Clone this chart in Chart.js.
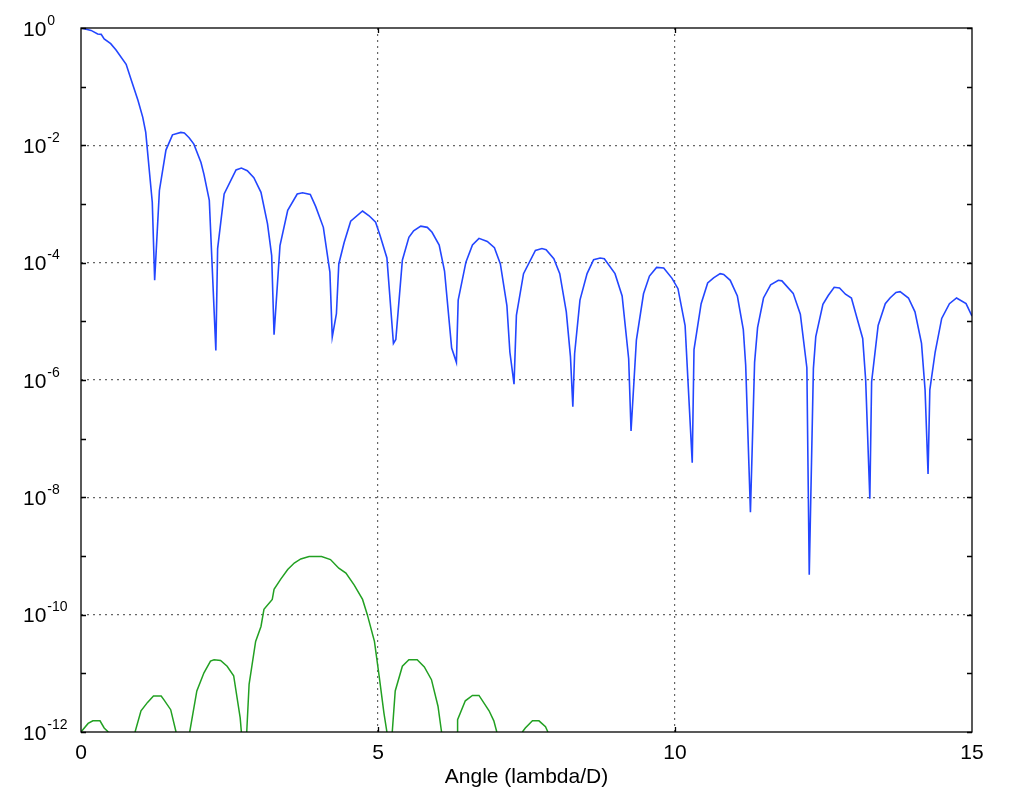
<!DOCTYPE html>
<html>
<head>
<meta charset="utf-8">
<script src="https://cdn.jsdelivr.net/npm/chart.js@4.4.1/dist/chart.umd.min.js"></script>
<style>
html,body{margin:0;padding:0;background:#fff;}
#plot{display:block;}
</style>
</head>
<body>
<canvas id="plot" width="1012" height="791"></canvas>
<script>

/* Data */

const blueAngle=[0.0,0.17,0.28,0.34,0.39,0.5,0.59,0.76,0.85,0.96,1.04,1.09,1.2,1.24,1.32,1.43,1.54,1.68,1.74,1.82,1.9,2.02,2.07,2.16,2.27,2.3,2.41,2.61,2.7,2.8,2.91,3.03,3.14,3.21,3.25,3.35,3.48,3.64,3.73,3.86,3.95,4.08,4.19,4.23,4.3,4.34,4.43,4.54,4.74,4.85,4.96,5.04,5.15,5.26,5.3,5.41,5.52,5.6,5.72,5.83,5.91,6.03,6.12,6.24,6.32,6.35,6.48,6.59,6.7,6.84,6.96,7.06,7.17,7.22,7.29,7.33,7.45,7.65,7.76,7.83,7.96,8.06,8.17,8.24,8.28,8.31,8.4,8.52,8.63,8.74,8.81,8.99,9.11,9.22,9.26,9.35,9.47,9.57,9.69,9.81,9.95,10.05,10.17,10.29,10.32,10.44,10.55,10.65,10.76,10.82,10.93,11.05,11.15,11.19,11.27,11.34,11.39,11.49,11.61,11.74,11.8,11.99,12.11,12.22,12.26,12.33,12.37,12.49,12.58,12.68,12.77,12.87,12.97,13.06,13.16,13.21,13.28,13.31,13.42,13.54,13.62,13.72,13.79,13.93,14.04,14.15,14.21,14.26,14.29,14.38,14.49,14.62,14.74,14.9,15.0];

const blueValue=[1.0,0.91,0.79,0.78,0.65,0.54,0.42,0.24,0.126,0.058,0.030,0.0166,1.07e-3,5.0e-5,1.7e-3,8.3e-3,0.0151,0.0166,0.0162,0.0135,0.0105,5.1e-3,3.2e-3,1.15e-3,3.2e-6,1.74e-4,1.48e-3,3.8e-3,4.1e-3,3.7e-3,2.8e-3,1.58e-3,4.6e-4,1.32e-4,5.9e-6,1.95e-4,7.8e-4,1.48e-3,1.55e-3,1.45e-3,9.1e-4,4.0e-4,6.9e-5,5.4e-6,1.35e-5,9.5e-5,2.2e-4,5.1e-4,7.6e-4,6.3e-4,4.9e-4,2.8e-4,1.2e-4,4.2e-6,4.9e-6,1.1e-4,2.7e-4,3.5e-4,4.2e-4,4.0e-4,3.3e-4,2.0e-4,7.2e-5,3.5e-6,2.0e-6,2.3e-5,1.02e-4,2.0e-4,2.6e-4,2.3e-4,1.8e-4,9.5e-5,1.86e-5,3.0e-6,8.5e-7,1.26e-5,6.5e-5,1.62e-4,1.74e-4,1.66e-4,1.17e-4,6.5e-5,1.45e-5,2.5e-6,3.5e-7,2.8e-6,2.3e-5,6.5e-5,1.12e-4,1.2e-4,1.17e-4,6.5e-5,2.7e-5,2.3e-6,1.35e-7,4.8e-6,2.95e-5,5.9e-5,8.3e-5,8.1e-5,5.4e-5,3.6e-5,8.5e-6,3.9e-8,3.3e-6,2.0e-5,4.5e-5,5.5e-5,6.5e-5,6.3e-5,5.0e-5,2.7e-5,7.2e-6,1.78e-6,5.6e-9,2.0e-6,7.8e-6,2.5e-5,4.2e-5,5.0e-5,4.9e-5,3.0e-5,1.32e-5,1.62e-6,4.8e-10,1.58e-6,5.5e-6,1.95e-5,2.75e-5,3.8e-5,3.7e-5,2.9e-5,2.5e-5,1.17e-5,5.1e-6,1.0e-6,9.5e-9,9.3e-7,8.5e-6,2.0e-5,2.5e-5,3.1e-5,3.2e-5,2.5e-5,1.45e-5,4.2e-6,6.8e-7,2.5e-8,6.8e-7,3.0e-6,1.12e-5,2.0e-5,2.5e-5,2.0e-5,1.23e-5];

/* green curve dips below the axis between lobes -> null (gap) */
const greenAngle=[0.0,0.12,0.2,0.32,0.39,0.46,0.68,0.91,1.01,1.12,1.22,1.35,1.4,1.51,1.6,1.72,1.83,1.95,2.07,2.18,2.24,2.35,2.46,2.57,2.68,2.7,2.75,2.79,2.83,2.94,3.03,3.08,3.22,3.25,3.36,3.48,3.59,3.7,3.84,4.05,4.2,4.34,4.46,4.6,4.74,4.82,4.94,5.02,5.1,5.15,5.2,5.24,5.29,5.41,5.52,5.66,5.78,5.9,6.01,6.07,6.2,6.33,6.34,6.47,6.59,6.7,6.87,6.95,7.0,7.2,7.43,7.48,7.6,7.71,7.82,7.86];

const greenValue=[1e-12,1.4e-12,1.55e-12,1.55e-12,1.17e-12,1e-12,null,1e-12,2.3e-12,3.2e-12,4.1e-12,4.1e-12,3.5e-12,2.4e-12,1e-12,null,1e-12,5.0e-12,1.02e-11,1.62e-11,1.7e-11,1.66e-11,1.32e-11,9.1e-12,1.74e-12,1e-12,null,1e-12,6.5e-12,3.5e-11,6.3e-11,1.23e-10,1.82e-10,2.7e-10,4.0e-10,5.9e-10,7.6e-10,8.9e-10,9.8e-10,9.8e-10,8.7e-10,6.2e-10,5.1e-10,3.2e-10,1.82e-10,1.0e-10,3.5e-11,8.9e-12,2.1e-12,1e-12,null,1e-12,5.0e-12,1.32e-11,1.7e-11,1.7e-11,1.29e-11,7.8e-12,2.75e-12,1e-12,null,1e-12,1.62e-12,3.4e-12,4.2e-12,4.2e-12,2.3e-12,1.55e-12,1e-12,null,1e-12,1.17e-12,1.55e-12,1.55e-12,1.23e-12,1e-12];

/* Axes */

const xTicks=[0,5,10,15];
const xGrid=[5,10];
const yTicks=[1,1e-1,1e-2,1e-3,1e-4,1e-5,1e-6,1e-7,1e-8,1e-9,1e-10,1e-11,1e-12];
const yLabelValues=[1,1e-2,1e-4,1e-6,1e-8,1e-10,1e-12];
const yLabelExps=["0","-2","-4","-6","-8","-10","-12"];
const yGrid=[1e-2,1e-4,1e-6,1e-8,1e-10];

const FONT="'Liberation Sans', Arial, Helvetica, sans-serif";

function near(list,v){
return list.some(g=>Math.abs(Math.log10(g)-Math.log10(v))<1e-6);
}

/* frame, inward ticks and 10^n labels */
const framePlugin={
id:"frame",
afterDraw(chart){
const c=chart.ctx;
const a=chart.chartArea;
const xs=chart.scales.x, ys=chart.scales.y;
c.save();
c.strokeStyle="#000";
c.lineWidth=1.3;
c.strokeRect(a.left,a.top,a.right-a.left,a.bottom-a.top);
c.beginPath();
yTicks.forEach(v=>{
const py=Math.round(ys.getPixelForValue(v))+0.5;
c.moveTo(a.left,py);c.lineTo(a.left+5,py);
c.moveTo(a.right,py);c.lineTo(a.right-5,py);
});
xGrid.forEach(v=>{
const px=Math.round(xs.getPixelForValue(v))+0.5;
c.moveTo(px,a.bottom);c.lineTo(px,a.bottom-5);
c.moveTo(px,a.top);c.lineTo(px,a.top+5);
});
c.stroke();

c.fillStyle="#000";
c.textAlign="left";
c.textBaseline="alphabetic";
yLabelValues.forEach((v,i)=>{
const py=ys.getPixelForValue(v);
c.font="21px "+FONT;
c.fillText("10",23,py+7.5);
const w=c.measureText("10").width;
c.font="14px "+FONT;
c.fillText(yLabelExps[i],23+w+1,py-3.5);
});
c.restore();
}
};

const ctx=document.getElementById("plot");

const chart=new Chart(ctx,{
type:"line",
data:{
datasets:[{
label:"blue",
data:blueAngle.map((a,i)=>({x:a,y:blueValue[i]})),
borderColor:"#2346ff",
borderWidth:1.6,
pointRadius:0,
tension:0
},{
label:"green",
data:greenAngle.map((a,i)=>({x:a,y:greenValue[i]})),
borderColor:"#22a022",
borderWidth:1.5,
pointRadius:0,
tension:0,
spanGaps:false
}]
},
options:{
responsive:false,
animation:false,
layout:{padding:{left:0,top:28,right:40,bottom:0}},
plugins:{legend:{display:false},tooltip:{enabled:false}},
scales:{
x:{
type:"linear",
min:0,max:15,
afterBuildTicks:s=>{s.ticks=xTicks.map(v=>({value:v}));},
afterFit:s=>{s.height=59;},
grid:{
drawTicks:false,
lineWidth:1.2,
color:c=>(c.tick&&xGrid.includes(c.tick.value))?"#666":"rgba(0,0,0,0)"
},
border:{display:false,dash:[2,4]},
ticks:{padding:9,color:"#000",font:{family:FONT,size:21},maxRotation:0},
title:{display:true,text:"Angle (lambda/D)",color:"#000",font:{family:FONT,size:21},padding:{top:0,bottom:1}}
},
y:{
type:"logarithmic",
min:1e-12,max:1,
afterBuildTicks:s=>{s.ticks=yTicks.map(v=>({value:v}));},
afterFit:s=>{s.width=81;},
grid:{
drawTicks:false,
lineWidth:1.2,
color:c=>(c.tick&&near(yGrid,c.tick.value))?"#666":"rgba(0,0,0,0)"
},
border:{display:false,dash:[2,4]},
ticks:{display:false}
}
}
},
plugins:[framePlugin]
});

</script>
</body>
</html>
